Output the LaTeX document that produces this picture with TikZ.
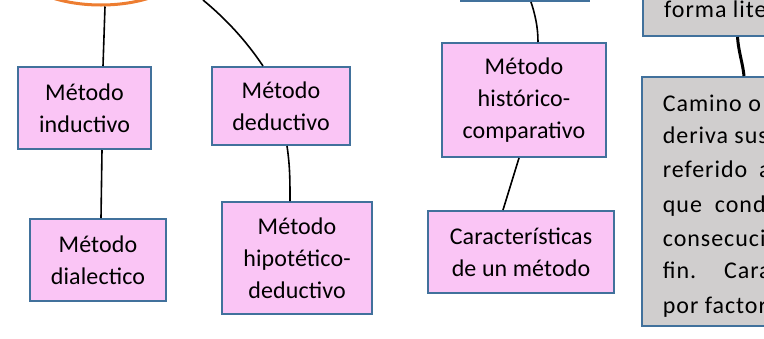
\documentclass[tikz,border=0pt]{standalone}
\usepackage{fontspec}
\setmainfont{Carlito}[LetterSpace=0.5]
\usetikzlibrary{shapes.geometric}
\definecolor{pinkfill}{HTML}{FAC5F5}
\definecolor{boxblue}{HTML}{41719C}
\definecolor{grayfill}{HTML}{D0CECE}
\definecolor{orng}{HTML}{ED7D31}
\begin{document}
\begin{tikzpicture}[x=1pt,y=-1pt,
  pbox/.style={draw=boxblue, line width=2pt, fill=pinkfill, align=center,
    font=\fontsize{24}{32}\selectfont, inner sep=0pt},
  gbox/.style={draw=boxblue, line width=2pt, fill=grayfill, inner sep=0pt},
  gtext/.style={anchor=base west, inner sep=0pt,
    font=\fontsize{24}{33}\selectfont\addfontfeature{LetterSpace=4}},
  conn/.style={draw=black, line width=1.6pt},
  thickconn/.style={draw=black, line width=3pt},
]
\useasboundingbox (0,0) rectangle (764,338);
\clip (0,0) rectangle (764,338);

% nodes partly outside the picture
\node[ellipse, draw=orng, line width=3pt, fill=white, inner sep=0pt,
      minimum width=175pt, minimum height=84pt] (ell) at (101,-37) {};
\node[draw=boxblue, line width=2pt, fill=white,
      minimum width=128pt, minimum height=80pt] (tm) at (525,-39) {};
\node[gbox, minimum width=257pt, minimum height=96pt] (tg) at (771.5,-12) {};
\node[gbox, minimum width=258pt, minimum height=249pt] (bg) at (771,201.5) {};

% pink boxes
\node[pbox, minimum width=133pt, minimum height=82pt] (ind) at (84.5,108) {Método\\inductivo};
\node[pbox, minimum width=138pt, minimum height=78pt] (ded) at (281,106) {Método\\deductivo};
\node[pbox, minimum width=136pt, minimum height=82pt] (dia) at (98,260) {Método\\dialectico};
\node[pbox, minimum width=150pt, minimum height=112pt] (hip) at (297,258) {Método\\hipotético-\\deductivo};
\node[pbox, minimum width=164pt, minimum height=114pt] (his) at (524,100) {Método\\histórico-\\comparativo};
\node[pbox, minimum width=186pt, minimum height=82pt] (car) at (521,252) {Características\\de un método};

% gray texts
\node[gtext] (t0) at (664,17) {forma lite};
\node[gtext] (g1) at (662.7,111.7) {Camino o};
\node[gtext] (g2) at (662.7,143) {deriva sus};
\node[gtext] (g3) at (662.7,177) {referido\hspace{12pt}a};
\node[gtext] (g4) at (662.7,212) {que\hspace{13pt}cond};
\node[gtext] (g5) at (662.7,246.7) {consecuci};
\node[gtext] (g6) at (662.7,278) {fin.\hspace{28pt}Cara};
\node[gtext] (g7) at (662.7,313) {por factor};

% connectors
\coordinate (tl) at (203,0);
\draw[conn] ([xshift=4]ell.south) -- ([xshift=18.5]ind.north);
\draw[conn] (tl) .. controls (226,19) and (246,40.6) .. ([xshift=-18]ded.north);
\draw[conn] ([xshift=17.5]ind.south) -- ([xshift=3]dia.north);
\draw[conn] ([xshift=6]ded.south) .. controls +(3,20) and +(0,-20) .. ([xshift=-7]hip.north);
\draw[conn] ([xshift=6]tm.south) .. controls +(4,12) and +(0,-15) .. ([xshift=14]his.north);
\draw[conn] ([xshift=-5]his.south) -- ([xshift=-18]car.north);
\draw[thickconn] ([xshift=-34]tg.south) .. controls +(1,15) and +(-1,-12) .. ([xshift=-27]bg.north);
\end{tikzpicture}
\end{document}
